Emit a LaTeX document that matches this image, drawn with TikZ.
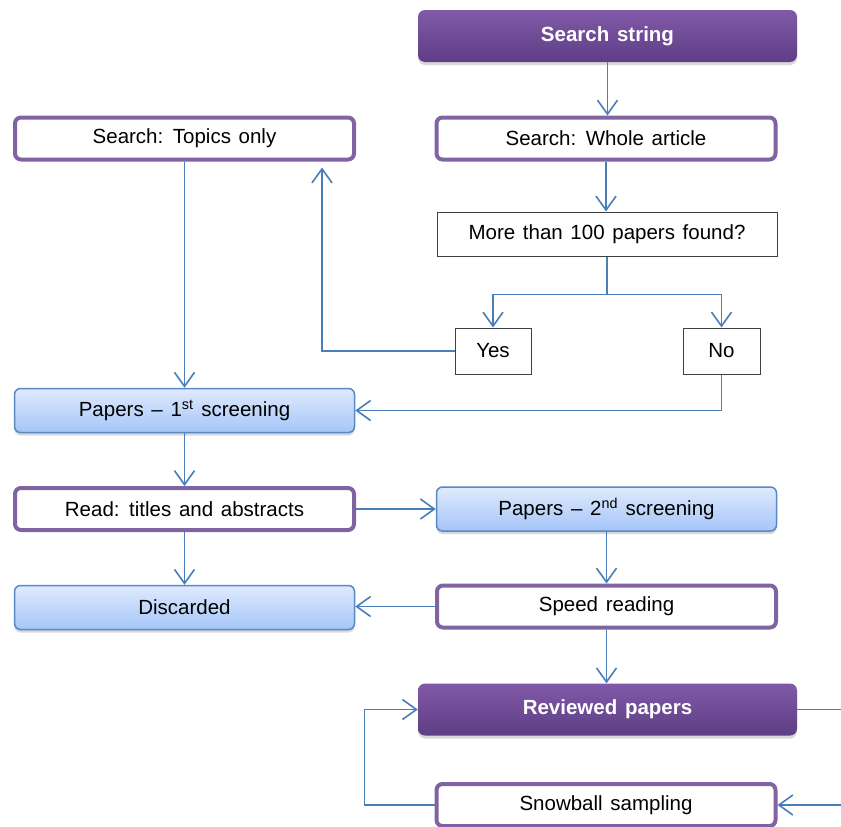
\documentclass[tikz,border=0pt]{standalone}
\usepackage{fontspec}
\setmainfont[WordSpace=1.35]{Liberation Sans}
\usetikzlibrary{arrows.meta,shadows}
\definecolor{pur}{HTML}{8064A2}
\definecolor{purtop}{HTML}{8159A8}
\definecolor{purbot}{HTML}{5E3E85}
\definecolor{bborder}{HTML}{5A88C2}
\definecolor{btop}{HTML}{DFEAFD}
\definecolor{bbot}{HTML}{A5C5F8}
\definecolor{acol}{HTML}{4A7EBB}
\begin{document}
\begin{tikzpicture}[x=1pt,y=-1pt,
  every node/.style={font=\fontsize{20.5}{24}\selectfont, inner sep=0pt, text=black},
  darkbox/.style={rounded corners=7pt, draw=none, top color=purtop, bottom color=purbot,
    text=white, font=\bfseries\fontsize{20.5}{24}\selectfont,
    minimum width=379pt, minimum height=52pt,
    drop shadow={shadow xshift=0pt, shadow yshift=-3pt, opacity=0.3}},
  purbox/.style={rounded corners=6pt, draw=pur, line width=4pt, fill=white,
    minimum width=339pt, minimum height=42pt},
  bluebox/.style={rounded corners=6pt, draw=bborder, line width=1.5pt, top color=btop, bottom color=bbot,
    minimum width=340pt, minimum height=44pt,
    drop shadow={shadow xshift=0pt, shadow yshift=-3pt, opacity=0.3}},
  plainbox/.style={draw=black!75, line width=1pt, fill=white},
  arr/.style={draw=acol, line width=1.6pt, -{Straight Barb[length=14pt,width=20pt]}},
  ln/.style={draw=acol, line width=1.6pt}]
\useasboundingbox (0,0) rectangle (841,827);
\fill[white] (0,0) rectangle (841,827);

\node[darkbox] (ss) at (607.5,36) {Search string};
\node[purbox] (wa) at (606,138.5) {Search: Whole article};
\node[purbox] (tp) at (184.5,138.5) {Search: Topics only};
\node[plainbox, minimum width=340pt, minimum height=44pt] (dec) at (607,234) {More than 100 papers found?};
\node[plainbox, minimum width=76pt, minimum height=46pt] (yes) at (493,351) {Yes};
\node[plainbox, minimum width=77pt, minimum height=46pt] (no) at (721.5,351) {No};
\node[bluebox] (p1) at (184.5,410.5) {Papers – 1\textsuperscript{st} screening};
\node[purbox] (rd) at (184.5,509) {Read: titles and abstracts};
\node[bluebox] (p2) at (606.5,509) {Papers – 2\textsuperscript{nd} screening};
\node[bluebox] (dc) at (184.5,607.5) {Discarded};
\node[purbox] (sr) at (606.5,606.5) {Speed reading};
\node[darkbox] (rv) at (607.5,709.5) {Reviewed papers};
\node[purbox] (sb) at (606,805) {Snowball sampling};

\coordinate (rout) at (841,709.5);
\coordinate (sin) at (841,805);

\draw[arr] (ss.south) -- (ss.south |- wa.north);
\draw[arr] (wa.south) -- (wa.south |- dec.north);
\draw[ln] (dec.south) -- ++(0,38) coordinate (j);
\draw[arr] (j) -| (yes.north);
\draw[arr] (j) -| (no.north);
\draw[arr] (yes.west) -| ([xshift=137.5pt,yshift=-6pt]tp.south);
\draw[arr] (tp.south) -- (p1.north);
\draw[arr] (no.south) |- (p1.east);
\draw[arr] (p1.south) -- (rd.north);
\draw[arr] (rd.east) -- (p2.west);
\draw[arr] (rd.south) -- (dc.north);
\draw[arr] (p2.south) -- (sr.north);
\draw[arr] (sr.west) -- (sr.west -| dc.east);
\draw[arr] (sr.south) -- (sr.south |- rv.north);
\draw[ln] (rv.east) -- (rout);
\draw[arr] (sin) -- (sb.east);
\draw[arr] (sb.west) -- ++(-70,0) |- (rv.west);
\end{tikzpicture}
\end{document}
